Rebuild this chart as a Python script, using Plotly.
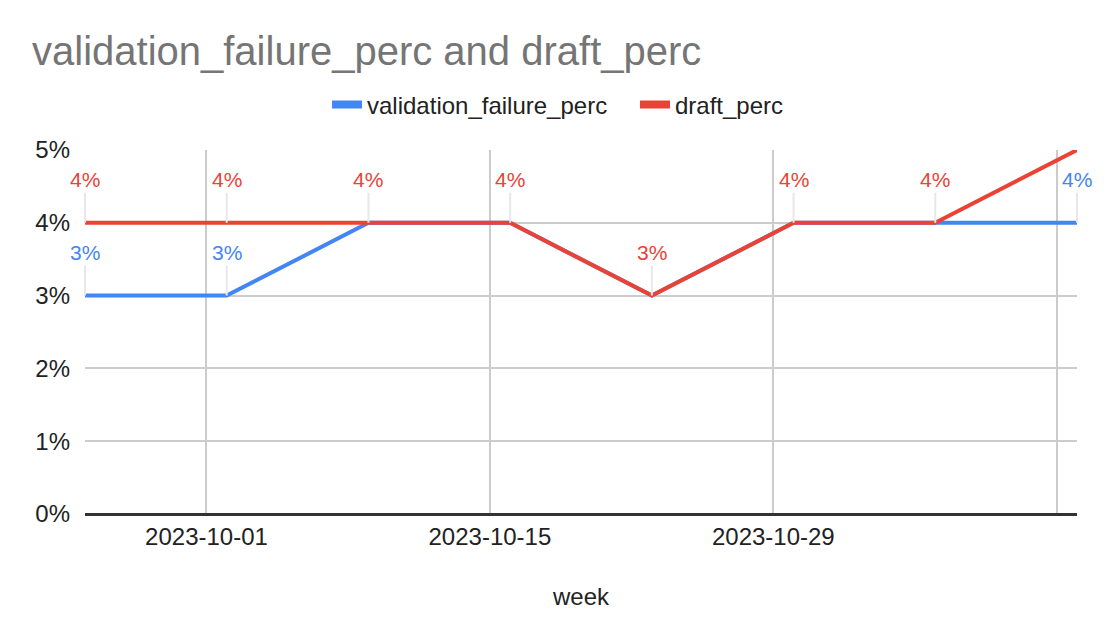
import plotly.graph_objects as go

weeks = ["2023-09-25", "2023-10-02", "2023-10-09", "2023-10-16",
         "2023-10-23", "2023-10-30", "2023-11-06", "2023-11-13"]
validation_failure_perc = [0.03, 0.03, 0.04, 0.04, 0.03, 0.04, 0.04, 0.04]
draft_perc = [0.04, 0.04, 0.04, 0.04, 0.03, 0.04, 0.04, 0.05]
x_tick_vals = ["2023-10-01", "2023-10-15", "2023-10-29", "2023-11-12"]
x_tick_text = ["2023-10-01", "2023-10-15", "2023-10-29", ""]
y_tick_vals = [0, 0.01, 0.02, 0.03, 0.04, 0.05]

BLUE = "#4285F4"
RED = "#EA4335"
FONT = "Liberation Sans, Arial, sans-serif"
Y_MAX = 0.05

# the page body adds an 8px offset; figure is sized to fit the window
W, H = 1102, 634

fig = go.Figure()
# visible lines (legend handled by dedicated entries below)
fig.add_trace(go.Scatter(x=weeks, y=validation_failure_perc, mode="lines",
                         name="validation_failure_perc", showlegend=False,
                         legendgroup="v",
                         line=dict(color=BLUE, width=4), cliponaxis=False))
fig.add_trace(go.Scatter(x=weeks, y=draft_perc, mode="lines",
                         name="draft_perc", showlegend=False, legendgroup="d",
                         line=dict(color=RED, width=4), cliponaxis=False))
# legend entries with thicker swatches
fig.add_trace(go.Scatter(x=[None], y=[None], mode="lines",
                         name="validation_failure_perc", legendgroup="v",
                         line=dict(color=BLUE, width=8)))
fig.add_trace(go.Scatter(x=[None], y=[None], mode="lines",
                         name="draft_perc", legendgroup="d",
                         line=dict(color=RED, width=8)))

annotations = []


def label(x, y, color):
    return dict(x=x, y=y, xref="x", yref="y", text=f"{round(y * 100)}%",
                showarrow=True, arrowhead=0, arrowwidth=2, arrowcolor="#e8e8e8",
                ax=0, ay=-43, standoff=0, startstandoff=0,
                font=dict(family=FONT, size=21, color=color))


red_shown = []
for x, v in zip(weeks, draft_perc):
    show = v < Y_MAX
    red_shown.append(show)
    if show:
        annotations.append(label(x, v, RED))
for x, v, r, rs in zip(weeks, validation_failure_perc, draft_perc, red_shown):
    if v != r or not rs:
        annotations.append(label(x, v, BLUE))

fig.update_layout(
    width=W, height=H,
    margin=dict(l=77, r=33, t=142, b=128, autoexpand=False),
    paper_bgcolor="white", plot_bgcolor="white",
    font=dict(family=FONT, size=24, color="#222222"),
    title=dict(text="validation_failure_perc and draft_perc",
               x=24 / W, xref="container", xanchor="left",
               y=1 - 43 / H, yref="container", yanchor="middle",
               font=dict(family=FONT, size=40, color="#757575")),
    legend=dict(orientation="h", xref="container", x=319 / W, xanchor="left",
                yref="container", y=1 - 97 / H, yanchor="middle",
                font=dict(family=FONT, size=24, color="#222222"),
                entrywidth=263, tracegroupgap=0),
    showlegend=True,
    annotations=annotations,
)

fig.update_xaxes(
    type="date", range=[weeks[0], weeks[-1]],
    tickmode="array", tickvals=x_tick_vals, ticktext=x_tick_text,
    showgrid=True, gridcolor="#cccccc", gridwidth=2,
    zeroline=False, showline=False, ticks="", ticklabelstandoff=6,
    tickfont=dict(family=FONT, size=24, color="#222222"),
    title=dict(text="week", standoff=39,
               font=dict(family=FONT, size=24, color="#222222")),
)
fig.update_yaxes(
    range=[0, Y_MAX], tickmode="array", tickvals=y_tick_vals,
    tickformat=".0%", showgrid=True, gridcolor="#cccccc", gridwidth=2,
    zeroline=True, zerolinecolor="#333333", zerolinewidth=3,
    showline=False, ticks="", ticklabelstandoff=14,
    tickfont=dict(family=FONT, size=24, color="#222222"),
)

fig.write_html("out.html")
